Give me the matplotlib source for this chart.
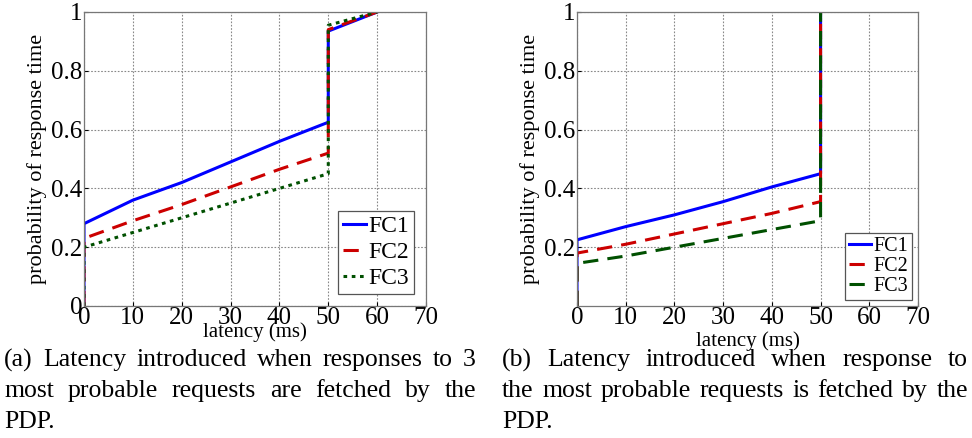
import matplotlib
matplotlib.use("Agg")
import matplotlib.pyplot as plt
import numpy as np

plt.rcParams['font.family'] = ['Liberation Serif', 'DejaVu Serif']

# ---- data ----
x_pts = [0, 10, 20, 30, 40, 50]
a_fc1 = [0.28, 0.36, 0.42, 0.49, 0.56, 0.625]
a_fc2 = [0.23, 0.29, 0.345, 0.405, 0.465, 0.52]
a_fc3 = [0.20, 0.25, 0.30, 0.35, 0.40, 0.45]
a_jump = [0.935, 0.94, 0.955]   # value just after 50 ms for FC1..FC3
a_end_x = 60

b_fc1 = [0.225, 0.27, 0.31, 0.355, 0.405, 0.45]
b_fc2 = [0.18, 0.21, 0.245, 0.28, 0.315, 0.355]
b_fc3 = [0.145, 0.17, 0.20, 0.23, 0.26, 0.29]

labels = ['FC1', 'FC2', 'FC3']
colors = ['#0000ff', '#cc0000', '#005000']
a_styles = ['-', (0, (5, 3)), (0, (1.2, 1.5))]
b_styles = ['-', (0, (5, 3)), (0, (5, 3))]

xticks = [0, 10, 20, 30, 40, 50, 60, 70]
a_yticks = [0, 0.2, 0.4, 0.6, 0.8, 1]
a_yticklabels = ['0', '0.2', '0.4', '0.6', '0.8', '1']
b_yticks = [0.2, 0.4, 0.6, 0.8, 1]
b_yticklabels = ['0.2', '0.4', '0.6', '0.8', '1']

cap_a = ["(a) Latency introduced when responses to 3",
         "most probable requests are fetched by the",
         "PDP."]
cap_b = ["(b) Latency introduced when response to",
         "the most probable requests is fetched by the",
         "PDP."]

W, H = 972, 438
fig = plt.figure(figsize=(W/100, H/100), dpi=100)

def axrect(l, t, r, b):
    return [l/W, 1 - b/H, (r-l)/W, (b-t)/H]

ax1 = fig.add_axes(axrect(84, 12, 426, 306))
ax2 = fig.add_axes(axrect(577, 12, 918, 306))

def style(ax, yt, ytl):
    ax.set_xlim(0, 70)
    ax.set_ylim(0, 1)
    ax.set_xticks(xticks)
    ax.set_yticks(yt)
    ax.set_yticklabels(ytl)
    ax.grid(True, color='#888888', linestyle=(0, (1.5, 1.5)), linewidth=0.8)
    ax.tick_params(labelsize=18, length=3, direction='in', pad=1)
    for s in ax.spines.values():
        s.set_color('#777777')
        s.set_linewidth(0.9)
    ax.set_ylabel('probability of response time', fontsize=16, labelpad=3)

# panel a
for ys, jy, c, ls, lb in zip([a_fc1, a_fc2, a_fc3], a_jump, colors, a_styles, labels):
    xs = [0] + x_pts + [50, a_end_x]
    yv = [0] + ys + [jy, 1.0]
    ax1.plot(xs, yv, color=c, linestyle=ls, linewidth=2.2, label=lb)
style(ax1, a_yticks, a_yticklabels)
ax1.set_xlabel('latency (ms)', fontsize=15, labelpad=-5)
leg1 = ax1.legend(loc='lower right', fontsize=17, handlelength=1.0, handletextpad=0.1,
                  borderpad=0.2, labelspacing=0.2, fancybox=False, framealpha=1,
                  edgecolor='#555555', borderaxespad=0.5)
leg1.get_frame().set_linewidth(0.9)

# panel b
for ys, c, ls, lb in zip([b_fc1, b_fc2, b_fc3], colors, b_styles, labels):
    xs = [0] + x_pts + [50]
    yv = [0] + ys + [1.0]
    ax2.plot(xs, yv, color=c, linestyle=ls, linewidth=2.2, label=lb)
style(ax2, b_yticks, b_yticklabels)
ax2.set_xlabel('latency (ms)', fontsize=15, labelpad=1)
leg2 = ax2.legend(loc='lower right', fontsize=14.5, handlelength=1.1, handletextpad=0.1,
                  borderpad=0.2, labelspacing=0.05, fancybox=False, framealpha=1,
                  edgecolor='#555555', borderaxespad=0.3)
leg2.get_frame().set_linewidth(0.9)

# captions: justified lines (last line left-aligned)
renderer = fig.canvas.get_renderer()
CAP_FS = 18.5

def text_w(s):
    t = fig.text(0, 0, s, fontsize=CAP_FS)
    w = t.get_window_extent(renderer).width
    t.remove()
    return w

def caption(lines, x0, x1, ytop, dy):
    for i, line in enumerate(lines):
        y = 1 - (ytop + i * dy) / H
        words = line.split(' ')
        last = (i == len(lines) - 1)
        if last or len(words) == 1:
            fig.text(x0 / W, y, line, fontsize=CAP_FS, va='center', ha='left')
            continue
        widths = [text_w(wd) for wd in words]
        gap = (x1 - x0 - sum(widths)) / (len(words) - 1)
        x = x0
        for wd, wdt in zip(words, widths):
            fig.text(x / W, y, wd, fontsize=CAP_FS, va='center', ha='left')
            x += wdt + gap

caption(cap_a, 4, 476, 360, 31)
caption(cap_b, 502, 968, 360, 31)

fig.savefig('out.png', dpi=100)
